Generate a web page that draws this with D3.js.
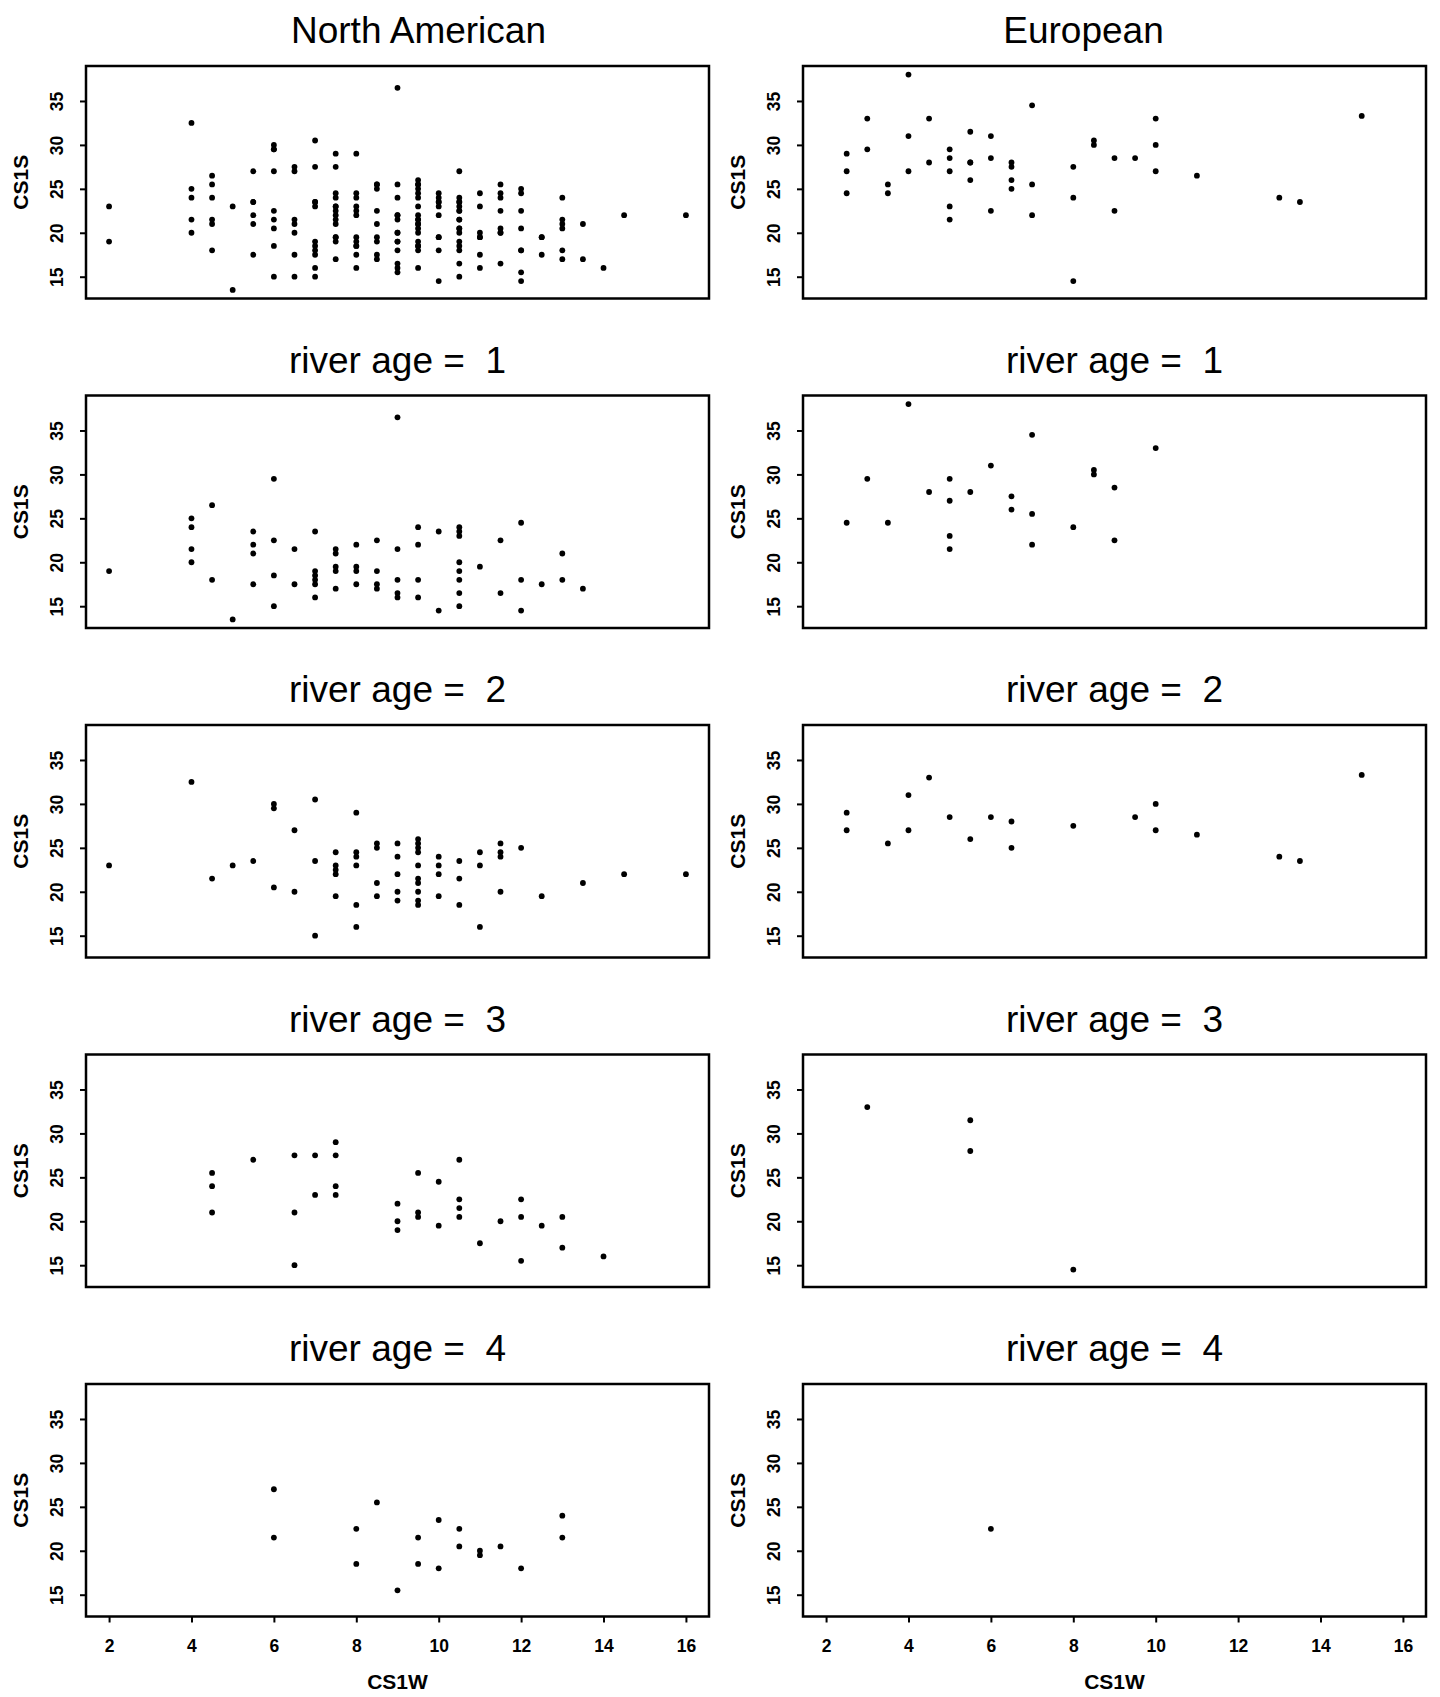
<!DOCTYPE html>
<html>
<head>
<meta charset="utf-8">
<title>CS1S vs CS1W by river age</title>
<script src="https://cdn.jsdelivr.net/npm/d3@7"></script>
<style>
    body { margin: 0; background: #fff; }
    svg text { font-family: "Liberation Sans", Arial, Helvetica, sans-serif; fill: #000; }
</style>
</head>
<body>
<div id="chart"></div>
<script>
(function () {'use strict';

// Axis ticks and panel labels
var xTicks    = [2, 4, 6, 8, 10, 12, 14, 16];
var yTicks    = [15, 20, 25, 30, 35];
var regions   = ['North American', 'European'];
var riverAges = [1, 2, 3, 4];
var xLabel    = 'CS1W';
var yLabel    = 'CS1S';

// [CS1W, CS1S]
var naAge1 = [
    [2, 19],
    [4, 25], [4, 24], [4, 21.5], [4, 20],
    [4.5, 26.5], [4.5, 18],
    [5, 13.5],
    [5.5, 23.5], [5.5, 22], [5.5, 21], [5.5, 17.5],
    [6, 29.5], [6, 22.5], [6, 18.5], [6, 15],
    [6.5, 21.5], [6.5, 17.5],
    [7, 23.5], [7, 19], [7, 18.5], [7, 18], [7, 17.5], [7, 16],
    [7.5, 21.5], [7.5, 21], [7.5, 19.5], [7.5, 19], [7.5, 17],
    [8, 22], [8, 19.5], [8, 19], [8, 17.5],
    [8.5, 22.5], [8.5, 19], [8.5, 17.5], [8.5, 17],
    [9, 36.5], [9, 21.5], [9, 18], [9, 16.5], [9, 16],
    [9.5, 24], [9.5, 22], [9.5, 18], [9.5, 16],
    [10, 23.5], [10, 14.5],
    [10.5, 24], [10.5, 23.5], [10.5, 23], [10.5, 20], [10.5, 19], [10.5, 18], [10.5, 16.5], [10.5, 15],
    [11, 19.5],
    [11.5, 22.5], [11.5, 16.5],
    [12, 24.5], [12, 18], [12, 14.5],
    [12.5, 17.5],
    [13, 21], [13, 18],
    [13.5, 17]
];

var naAge2 = [
    [2, 23], [4, 32.5], [4.5, 21.5], [5, 23], [5.5, 23.5],
    [6, 30], [6, 29.5], [6, 20.5],
    [6.5, 27], [6.5, 20],
    [7, 30.5], [7, 23.5], [7, 15],
    [7.5, 24.5], [7.5, 23], [7.5, 22.5], [7.5, 22], [7.5, 19.5],
    [8, 29], [8, 24.5], [8, 24], [8, 23], [8, 18.5], [8, 16],
    [8.5, 25.5], [8.5, 25], [8.5, 21], [8.5, 19.5],
    [9, 25.5], [9, 24], [9, 22], [9, 20], [9, 19],
    [9.5, 26], [9.5, 25.5], [9.5, 25], [9.5, 24.5], [9.5, 23], [9.5, 21.5], [9.5, 21], [9.5, 20], [9.5, 19], [9.5, 18.5],
    [10, 24], [10, 23], [10, 22], [10, 19.5],
    [10.5, 23.5], [10.5, 21.5], [10.5, 18.5],
    [11, 24.5], [11, 23], [11, 16],
    [11.5, 25.5], [11.5, 24.5], [11.5, 24], [11.5, 20],
    [12, 25], [12.5, 19.5], [13.5, 21], [14.5, 22], [16, 22]
];

var naAge3 = [
    [4.5, 25.5], [4.5, 24], [4.5, 21],
    [5.5, 27],
    [6.5, 27.5], [6.5, 21], [6.5, 15],
    [7, 27.5], [7, 23],
    [7.5, 29], [7.5, 27.5], [7.5, 24], [7.5, 23],
    [9, 22], [9, 20], [9, 19],
    [9.5, 25.5], [9.5, 21], [9.5, 20.5],
    [10, 24.5], [10, 19.5],
    [10.5, 27], [10.5, 22.5], [10.5, 21.5], [10.5, 20.5],
    [11, 17.5], [11.5, 20],
    [12, 22.5], [12, 20.5], [12, 15.5],
    [12.5, 19.5], [13, 20.5], [13, 17], [14, 16]
];

var naAge4 = [
    [6, 27], [6, 21.5], [8, 22.5], [8, 18.5], [8.5, 25.5], [9, 15.5],
    [9.5, 21.5], [9.5, 18.5], [10, 23.5], [10, 18], [10.5, 22.5], [10.5, 20.5],
    [11, 20], [11, 19.5], [11.5, 20.5], [12, 18], [13, 24], [13, 21.5]
];

var euAge1 = [
    [2.5, 24.5], [3, 29.5], [3.5, 24.5], [4, 38], [4.5, 28],
    [5, 29.5], [5, 27], [5, 23], [5, 21.5], [5.5, 28], [6, 31],
    [6.5, 27.5], [6.5, 26], [7, 34.5], [7, 25.5], [7, 22], [8, 24],
    [8.5, 30.5], [8.5, 30], [9, 28.5], [9, 22.5], [10, 33]
];

var euAge2 = [
    [2.5, 29], [2.5, 27], [3.5, 25.5], [4, 31], [4, 27], [4.5, 33],
    [5, 28.5], [5.5, 26], [6, 28.5], [6.5, 28], [6.5, 25], [8, 27.5],
    [9.5, 28.5], [10, 30], [10, 27], [11, 26.5], [13, 24], [13.5, 23.5], [15, 33.3]
];

var euAge3 = [[3, 33], [5.5, 31.5], [5.5, 28], [8, 14.5]];

var euAge4 = [[6, 22.5]];

var byRegion = [
    [naAge1, naAge2, naAge3, naAge4],
    [euAge1, euAge2, euAge3, euAge4]
];

// Layout
var width  = 1440,
    height = 1697,
    colLeft     = [86, 803],
    panelWidth  = 623,
    firstTop    = 66,
    rowStep     = 329.5,
    panelHeight = 232.5,
    titleOffset = [21, -31],
    xDomain = [1.44, 16.56],
    yDomain = [12.52, 38.98];

var svg = d3.select('#chart')
    .append('svg')
        .attr('width', width)
        .attr('height', height);

svg.append('rect')
    .attr('width', width)
    .attr('height', height)
    .attr('fill', '#fff');

regions.forEach(function (region, c) {
    var ages = byRegion[c];
    var allPoints = d3.merge(ages);

    drawPanel(c, 0, allPoints, region, titleOffset[c]);
    riverAges.forEach(function (age, i) {
        // R pastes a blank before the number, hence the double space
        drawPanel(c, i + 1, ages[i], 'river age =  ' + age, 0);
    });
});

function drawPanel(col, row, points, title, dxTitle) {
    var left   = colLeft[col],
        top    = firstTop + row * rowStep,
        isLast = row === riverAges.length;

    var x = d3.scaleLinear().domain(xDomain).range([left, left + panelWidth]);
    var y = d3.scaleLinear().domain(yDomain).range([top + panelHeight, top]);

    var g = svg.append('g').attr('class', 'panel');

    // Title
    g.append('text')
        .attr('x', left + panelWidth / 2 + dxTitle)
        .attr('y', top - 23)
        .attr('text-anchor', 'middle')
        .style('font-size', '37px')
        .style('white-space', 'pre')
        .text(title);

    // Y axis, labels parallel to the axis
    var yAxis = g.append('g')
        .attr('transform', 'translate(' + left + ',0)')
        .call(d3.axisLeft(y).tickValues(yTicks).tickSize(6));
    yAxis.select('.domain').remove();
    yAxis.selectAll('.tick line')
        .attr('stroke', '#000')
        .attr('stroke-width', 2);
    yAxis.selectAll('.tick text')
        .attr('x', null)
        .attr('dy', null)
        .attr('transform', 'translate(-23,0) rotate(-90)')
        .attr('text-anchor', 'middle')
        .style('font-size', '17.5px')
        .style('font-weight', 'bold');

    g.append('text')
        .attr('transform', 'translate(' + (left - 58.5) + ',' + (top + panelHeight / 2) + ') rotate(-90)')
        .attr('text-anchor', 'middle')
        .style('font-size', '21px')
        .style('font-weight', 'bold')
        .text(yLabel);

    // X axis only under the bottom row
    if (isLast) {
        var xAxis = g.append('g')
            .attr('transform', 'translate(0,' + (top + panelHeight) + ')')
            .call(d3.axisBottom(x).tickValues(xTicks).tickSize(6));
        xAxis.select('.domain').remove();
        xAxis.selectAll('.tick line')
            .attr('stroke', '#000')
            .attr('stroke-width', 2);
        xAxis.selectAll('.tick text')
            .attr('y', 35)
            .attr('dy', null)
            .style('font-size', '17.5px')
            .style('font-weight', 'bold');

        g.append('text')
            .attr('x', left + panelWidth / 2)
            .attr('y', top + panelHeight + 72)
            .attr('text-anchor', 'middle')
            .style('font-size', '21px')
            .style('font-weight', 'bold')
            .text(xLabel);
    }

    // Points
    g.append('g')
        .selectAll('circle')
        .data(points)
        .enter()
        .append('circle')
            .attr('cx', function (d) { return x(d[0]); })
            .attr('cy', function (d) { return y(d[1]); })
            .attr('r', 2.9)
            .attr('fill', '#000');

    // Frame
    g.append('rect')
        .attr('x', left)
        .attr('y', top)
        .attr('width', panelWidth)
        .attr('height', panelHeight)
        .attr('fill', 'none')
        .attr('stroke', '#000')
        .attr('stroke-width', 2.5);
}

})();
</script>
</body>
</html>
